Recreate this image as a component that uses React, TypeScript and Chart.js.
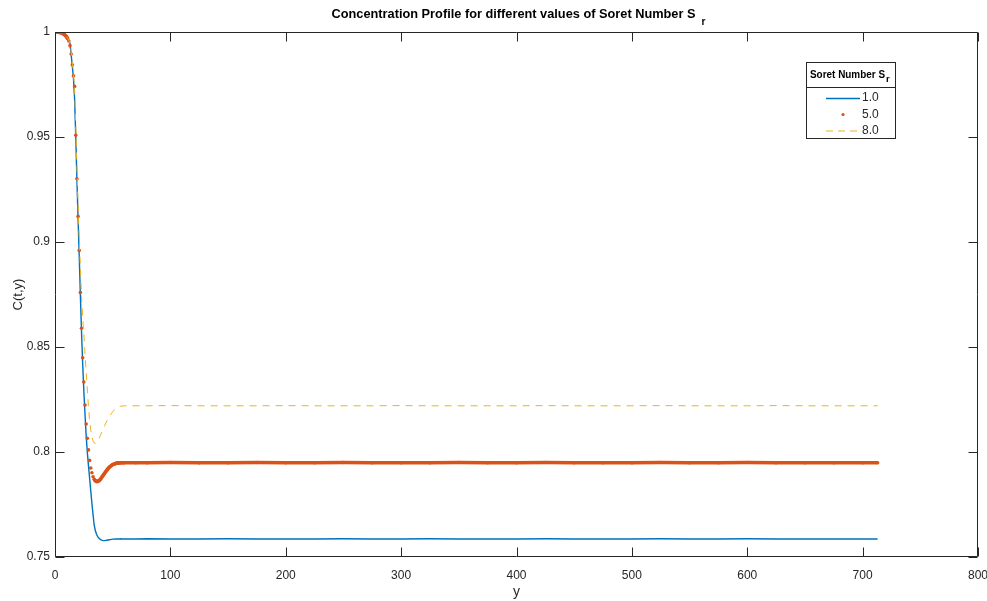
import React, { useEffect, useRef } from "react";
import { Chart, registerables } from "chart.js";

Chart.register(...registerables);

// ---- data ----
const yPositions = [
  0, 1, 2, 3, 4, 5, 6, 7, 8, 9, 10, 11, 12, 13, 14, 15, 16, 17, 18, 19, 20,
  21, 22, 23, 24, 25, 26, 27, 28, 29, 30, 31, 32, 33, 34, 35, 36, 37, 38, 39, 40,
  41, 42, 43, 44, 45, 46, 47, 48, 49, 50, 51, 52, 53, 54, 55, 56, 57, 58, 59, 60,
  70, 80, 100, 125, 150, 175, 200, 225, 250, 275, 300, 325, 350, 375, 400, 425,
  450, 475, 500, 525, 550, 575, 600, 625, 650, 675, 700, 713,
];

const concSr1 = [
  1.0, 1.0, 1.0, 0.9999, 0.9998, 0.9997, 0.9995, 0.9992, 0.9988, 0.9982, 0.9975,
  0.9966, 0.9957, 0.9945, 0.9892, 0.9838, 0.978, 0.968, 0.95, 0.9295, 0.911,
  0.8935, 0.8745, 0.857, 0.842, 0.829, 0.818, 0.808, 0.8, 0.7935, 0.7875,
  0.7815, 0.7755, 0.77, 0.765, 0.7625, 0.7608, 0.7597, 0.759, 0.7585, 0.7581,
  0.7579, 0.7578, 0.7578, 0.7579, 0.758, 0.7581, 0.7582, 0.7583, 0.7584, 0.7585,
  0.7585, 0.7586, 0.7586, 0.7586, 0.7586, 0.7586, 0.7587, 0.7586, 0.7586, 0.7586,
  0.7586, 0.7587, 0.7586, 0.7586, 0.7587, 0.7586, 0.7586, 0.7586, 0.7587, 0.7586,
  0.7586, 0.7587, 0.7586, 0.7586, 0.7586, 0.7587, 0.7586, 0.7586, 0.7586, 0.7587,
  0.7586, 0.7586, 0.7587, 0.7586, 0.7586, 0.7586, 0.7586, 0.7586,
];

const concSr5 = [
  1.0, 1.0, 1.0, 0.9999, 0.9998, 0.9997, 0.9995, 0.9992, 0.9988, 0.9983, 0.9977,
  0.9968, 0.9957, 0.9935, 0.9895, 0.9844, 0.9792, 0.9741, 0.9508, 0.9301, 0.9122,
  0.896, 0.8759, 0.8589, 0.8449, 0.8333, 0.8224, 0.8133, 0.8065, 0.801, 0.796,
  0.7924, 0.7901, 0.7882, 0.787, 0.7863, 0.786, 0.786, 0.7863, 0.7868, 0.7875,
  0.7883, 0.7891, 0.7899, 0.7907, 0.7914, 0.7921, 0.7927, 0.7932, 0.7936, 0.794,
  0.7942, 0.7944, 0.7946, 0.7947, 0.7948, 0.7948, 0.7949, 0.7949, 0.7949, 0.7949,
  0.7949, 0.7949, 0.795, 0.7949, 0.7949, 0.795, 0.7949, 0.7949, 0.795, 0.7949,
  0.7949, 0.7949, 0.795, 0.7949, 0.7949, 0.795, 0.7949, 0.7949, 0.7949, 0.795,
  0.7949, 0.7949, 0.795, 0.7949, 0.7949, 0.7949, 0.7949, 0.7949,
];

const concSr8 = [
  1.0, 1.0, 1.0, 0.9999, 0.9998, 0.9997, 0.9995, 0.9993, 0.9989, 0.9984, 0.9978,
  0.997, 0.996, 0.9942, 0.9908, 0.986, 0.9805, 0.973, 0.956, 0.936, 0.918,
  0.902, 0.888, 0.874, 0.864, 0.856, 0.847, 0.838, 0.83, 0.8215, 0.815,
  0.8105, 0.8072, 0.8052, 0.8043, 0.8041, 0.8044, 0.8052, 0.8063, 0.8075, 0.8088,
  0.81, 0.8112, 0.8125, 0.8137, 0.8148, 0.8158, 0.8167, 0.8176, 0.8184, 0.8192,
  0.8199, 0.8205, 0.8209, 0.8212, 0.8215, 0.8217, 0.8218, 0.8219, 0.8219, 0.822,
  0.822, 0.822, 0.8221, 0.822, 0.822, 0.822, 0.8221, 0.822, 0.822, 0.822,
  0.8221, 0.822, 0.822, 0.822, 0.822, 0.8221, 0.822, 0.822, 0.822, 0.8221,
  0.822, 0.822, 0.822, 0.8221, 0.822, 0.822, 0.822, 0.822,
];

const seriesLabels = ["1.0", "5.0", "8.0"];
const chartTitle = "Concentration Profile for different values of Soret Number S";
const titleSub = "r";
const legendTitle = "Soret Number S";
const xAxisTitle = "y";
const yAxisTitle = "C(t,y)";

const BLUE = "#0072BD";
const ORANGE = "#D95319";
const YELLOW = "#EDB120";
const AXIS = "#262626";
const FONT = '"Liberation Sans", Arial, Helvetica, sans-serif';

const toPoints = (vals: number[]) => vals.map((v, i) => ({ x: yPositions[i], y: v }));

const framePlugin = {
  id: "matlabFrame",
  afterDraw(chart: any) {
    const { ctx, chartArea: a, scales } = chart;
    const L = Math.round(a.left) + 0.5;
    const R = Math.round(a.right) - 0.5;
    const T = Math.round(a.top) + 0.5;
    const B = Math.round(a.bottom) - 0.5;
    ctx.save();
    ctx.strokeStyle = AXIS;
    ctx.lineWidth = 1;
    ctx.setLineDash([]);
    ctx.beginPath();
    ctx.rect(L, T, R - L, B - T);
    const tl = 9;
    scales.x.ticks.forEach((t: any) => {
      const px = Math.round(scales.x.getPixelForValue(t.value)) + 0.5;
      ctx.moveTo(px, B);
      ctx.lineTo(px, B - tl);
      ctx.moveTo(px, T);
      ctx.lineTo(px, T + tl);
    });
    scales.y.ticks.forEach((t: any) => {
      const py = Math.round(scales.y.getPixelForValue(t.value)) + 0.5;
      ctx.moveTo(L, py);
      ctx.lineTo(L + tl, py);
      ctx.moveTo(R, py);
      ctx.lineTo(R - tl, py);
    });
    ctx.stroke();

    // title
    const cx = (a.left + a.right) / 2;
    ctx.fillStyle = "#000";
    ctx.font = `bold 12.5px ${FONT}`;
    ctx.textBaseline = "alphabetic";
    ctx.textAlign = "left";
    const tw = ctx.measureText(chartTitle).width;
    const target = 364;
    const tLeft = cx - 185;
    ctx.save();
    ctx.translate(tLeft, 18);
    ctx.scale(target / tw, 1);
    ctx.fillText(chartTitle, 0, 0);
    ctx.restore();
    ctx.font = `bold 10px ${FONT}`;
    ctx.fillText(titleSub, tLeft + target + 6, 25);

    // axis titles
    ctx.fillStyle = AXIS;
    ctx.font = `14px ${FONT}`;
    ctx.textAlign = "center";
    ctx.textBaseline = "middle";
    ctx.fillText(xAxisTitle, cx, 592);
    ctx.save();
    ctx.translate(18, (a.top + a.bottom) / 2);
    ctx.rotate(-Math.PI / 2);
    ctx.font = `13px ${FONT}`;
    ctx.fillText(yAxisTitle, 0, 0);
    ctx.restore();

    // legend
    const lx = 806.5, ly = 62.5, lw = 89, lh = 76;
    ctx.fillStyle = "#fff";
    ctx.fillRect(lx, ly, lw, lh);
    ctx.strokeStyle = AXIS;
    ctx.strokeRect(lx, ly, lw, lh);
    ctx.beginPath();
    ctx.moveTo(lx, 87.5);
    ctx.lineTo(lx + lw, 87.5);
    ctx.stroke();
    ctx.fillStyle = "#000";
    ctx.font = `bold 10.5px ${FONT}`;
    ctx.textAlign = "left";
    ctx.textBaseline = "alphabetic";
    const hw = ctx.measureText(legendTitle).width;
    const hTarget = 75;
    ctx.save();
    ctx.translate(810, 77.5);
    ctx.scale(hTarget / hw, 1);
    ctx.fillText(legendTitle, 0, 0);
    ctx.restore();
    ctx.font = `bold 9.5px ${FONT}`;
    ctx.fillText(titleSub, 810 + hTarget + 1, 81.5);

    const rows = [98, 114.5, 130.5];
    ctx.font = `12px ${FONT}`;
    ctx.textBaseline = "middle";
    rows.forEach((ry, i) => {
      ctx.save();
      if (i === 0) {
        ctx.strokeStyle = BLUE;
        ctx.lineWidth = 1.3;
        ctx.beginPath();
        ctx.moveTo(826, ry + 0.5);
        ctx.lineTo(860, ry + 0.5);
        ctx.stroke();
      } else if (i === 1) {
        ctx.fillStyle = ORANGE;
        ctx.beginPath();
        ctx.arc(843, ry, 1.6, 0, Math.PI * 2);
        ctx.fill();
      } else {
        ctx.strokeStyle = YELLOW;
        ctx.lineWidth = 1;
        ctx.setLineDash([7, 5]);
        ctx.beginPath();
        ctx.moveTo(826, ry + 0.5);
        ctx.lineTo(860, ry + 0.5);
        ctx.stroke();
      }
      ctx.restore();
      ctx.fillStyle = AXIS;
      ctx.fillText(seriesLabels[i], 862, ry);
    });
    ctx.restore();
  },
};

export default function App() {
  const ref = useRef<HTMLCanvasElement | null>(null);

  useEffect(() => {
    document.body.style.margin = "0";
    const canvas = ref.current;
    if (!canvas) return;
    const chart = new Chart(canvas, {
      type: "line",
      data: {
        datasets: [
          {
            label: seriesLabels[2],
            data: toPoints(concSr8),
            borderColor: YELLOW,
            borderWidth: 1,
            borderDash: [7, 6],
            pointRadius: 0,
            tension: 0,
            order: 0,
          },
          {
            label: seriesLabels[1],
            data: toPoints(concSr5),
            borderColor: ORANGE,
            backgroundColor: ORANGE,
            borderWidth: 3.6,
            pointRadius: 1.8,
            pointBorderWidth: 0,
            pointBackgroundColor: ORANGE,
            tension: 0,
            order: 1,
            segment: {
              borderColor: (c: any) =>
                Math.abs(c.p1.parsed.y - c.p0.parsed.y) < 0.001 ? ORANGE : "rgba(0,0,0,0)",
            },
          },
          {
            label: seriesLabels[0],
            data: toPoints(concSr1),
            borderColor: BLUE,
            borderWidth: 1.4,
            pointRadius: 0,
            tension: 0,
            order: 2,
          },
        ],
      },
      options: {
        responsive: false,
        animation: false,
        devicePixelRatio: 1,
        layout: { padding: { top: 32, right: 9, left: 0, bottom: 0 } },
        plugins: {
          legend: { display: false },
          title: { display: false },
          tooltip: { enabled: false },
        },
        scales: {
          x: {
            type: "linear",
            min: 0,
            max: 800,
            ticks: {
              stepSize: 100,
              color: AXIS,
              font: { family: FONT, size: 12 },
              padding: 11,
              maxRotation: 0,
            },
            grid: { display: false, drawTicks: false },
            border: { display: false },
            afterFit: (s: any) => {
              s.height = 44;
              s.paddingLeft = 0;
              s.paddingRight = 0;
            },
          },
          y: {
            type: "linear",
            min: 0.75,
            max: 1,
            ticks: {
              stepSize: 0.05,
              color: AXIS,
              font: { family: FONT, size: 12 },
              padding: 5,
              callback: (v: any) => String(+Number(v).toFixed(2)),
            },
            grid: { display: false, drawTicks: false },
            border: { display: false },
            afterFit: (s: any) => {
              s.width = 55;
              s.paddingTop = 0;
              s.paddingBottom = 0;
            },
          },
        },
      },
      plugins: [framePlugin],
    });
    return () => chart.destroy();
  }, []);

  return (
    <div style={{ position: "absolute", left: 0, top: 0, width: 987, height: 601, background: "#fff" }}>
      <canvas ref={ref} width={987} height={601} style={{ display: "block" }} />
    </div>
  );
}
